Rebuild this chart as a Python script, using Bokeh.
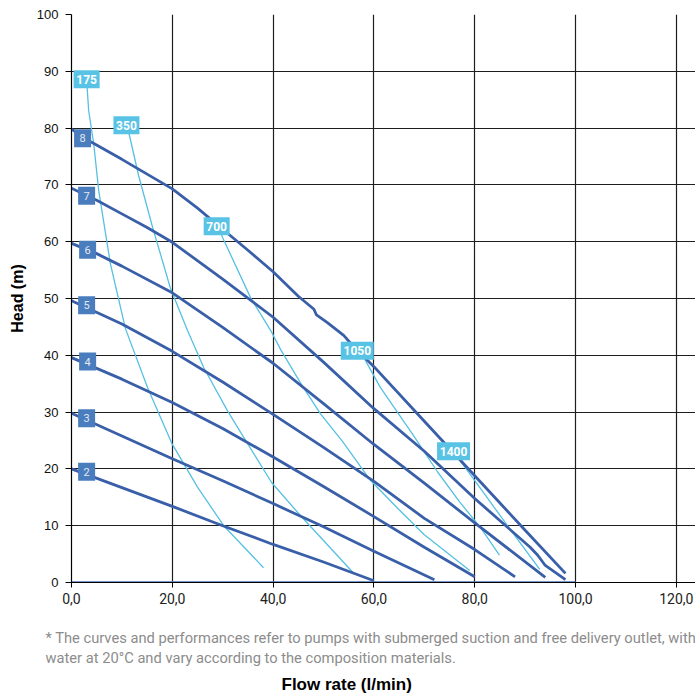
from bokeh.plotting import figure
from bokeh.models import Range1d, Title, FixedTicker
from bokeh.embed import file_html
from bokeh.resources import INLINE
from bokeh.core.properties import value

# ---------------- data ----------------
x_ticks = [0, 20, 40, 60, 80, 100, 120]
x_tick_labels = ["0,0", "20,0", "40,0", "60,0", "80,0", "100,0", "120,0"]
y_ticks = [0, 10, 20, 30, 40, 50, 60, 70, 80, 90, 100]

# head curves at air pressure (bar)
bar2_x = [0, 10, 20, 30, 40, 50, 60]
bar2_y = [20.0, 16.7, 13.4, 10.0, 6.7, 3.6, 0.3]
bar3_x = [0, 10, 20, 30, 40, 50, 60, 72]
bar3_y = [29.8, 25.8, 21.8, 17.9, 13.9, 9.8, 5.5, 0.5]
bar4_x = [0, 10, 20, 30, 40, 50, 60, 70, 80]
bar4_y = [39.6, 35.8, 31.7, 27.1, 22.1, 16.9, 11.6, 6.2, 1.0]
bar5_x = [0, 10, 20, 30, 40, 50, 60, 70, 80, 88]
bar5_y = [49.6, 45.5, 40.7, 35.3, 29.6, 23.8, 17.8, 11.3, 5.8, 1.0]
bar6_x = [0, 5, 10, 20, 30, 40, 50, 60, 70, 80, 94]
bar6_y = [59.7, 57.9, 55.7, 51.0, 44.9, 38.6, 31.5, 24.3, 17.5, 10.5, 0.9]
bar7_x = [0, 5, 10, 15, 20, 30, 40, 50, 60, 70, 80, 91, 92.5, 94, 98]
bar7_y = [69.4, 67.3, 64.9, 62.5, 59.9, 53.4, 46.7, 38.8, 30.6, 23.1, 14.8, 6.2, 4.8, 3.0, 0.5]
bar8_x = [0, 4, 10, 15, 20, 25, 30, 35, 40, 45, 48.1, 48.6, 50.7, 54, 56, 60, 70, 80, 90, 98]
bar8_y = [79.8, 77.5, 74.5, 71.9, 69.3, 65.9, 62.2, 58.5, 54.7, 50.4, 48.1, 47.1, 45.8, 43.5, 41.5,
          38.0, 28.4, 18.8, 9.2, 1.6]
bar0_x = [0, 100]
bar0_y = [0, 0]

# air consumption curves (Nl/min)
air175_x = [3.0, 3.4, 4.4, 5.4, 7.7, 10.7, 15.1, 19.9, 25.0, 30.2, 38.1]
air175_y = [88.6, 83.1, 77.3, 69.0, 56.2, 44.7, 34.3, 24.5, 16.8, 10.0, 2.6]
air350_x = [10.9, 11.5, 13.3, 16.1, 19.6, 23.0, 26.2, 30.9, 34.2, 39.7, 45.4, 50.0, 55.8]
air350_y = [80.5, 78.7, 71.7, 62.5, 51.9, 44.4, 37.9, 30.3, 25.5, 17.6, 11.8, 7.4, 1.8]
air700_x = [29.2, 30.0, 35.5, 39.5, 41.5, 45.4, 49.4, 53.8, 59.3, 65.0, 70.0, 79.0]
air700_y = [62.5, 60.7, 50.2, 44.4, 41.0, 35.2, 29.7, 24.8, 18.0, 12.8, 8.4, 2.1]
air1050_x = [57.2, 58.3, 61.3, 67.9, 72.6, 77.0, 81.2, 84.9]
air1050_y = [40.8, 39.1, 34.3, 25.8, 19.5, 14.2, 9.6, 4.8]
air1400_x = [76.2, 77.4, 82.0, 86.5, 92.9]
air1400_y = [23.0, 21.1, 15.5, 10.0, 2.3]

bar_labels = ["2", "3", "4", "5", "6", "7", "8"]
bar_label_x = [3.0, 3.0, 3.2, 3.0, 3.2, 3.0, 2.2]
bar_label_y = [19.5, 28.9, 38.9, 48.8, 58.6, 68.1, 78.2]

air_labels = ["175", "350", "700", "1050", "1400"]
air_label_x = [3.0, 10.9, 28.8, 56.7, 75.8]
air_label_y = [88.6, 80.5, 62.7, 40.8, 23.1]
air_label_w = [26, 26, 26, 33, 33]

footnote_1 = "* The curves and performances refer to pumps with submerged suction and free delivery outlet, with"
footnote_2 = "water at 20°C and vary according to the composition materials."
x_title = "Flow rate (l/min)"
y_title = "Head (m)"

# ---------------- styles ----------------
DARK = "#3a5fa9"
DARK_BOX = "#4a7dbd"
LIGHT = "#56c0e3"
LIGHT_BOX = "#58c3e5"

p = figure(width=695, height=699, x_range=Range1d(0, 123.8), y_range=Range1d(0, 100),
           output_backend="svg", toolbar_location=None,
           min_border_left=71, min_border_right=0, min_border_top=14, min_border_bottom=117)
p.outline_line_color = None
p.background_fill_color = "white"
p.border_fill_color = "white"

p.xaxis.ticker = FixedTicker(ticks=x_ticks)
p.xaxis.major_label_overrides = {t: l for t, l in zip(x_ticks, x_tick_labels)}
p.yaxis.ticker = FixedTicker(ticks=y_ticks)
p.xgrid.ticker = FixedTicker(ticks=x_ticks)
p.ygrid.ticker = FixedTicker(ticks=y_ticks)
for g in (p.xgrid, p.ygrid):
    g.grid_line_color = "#1e1e1e"
    g.grid_line_width = 1.2

for ax in (p.xaxis, p.yaxis):
    ax.axis_line_color = "black"
    ax.axis_line_width = 1.2
    ax.major_tick_line_color = "black"
    ax.major_tick_in = 0
    ax.minor_tick_line_color = None
p.xaxis.major_tick_out = 5
p.yaxis.major_tick_out = 6
p.xaxis.major_label_text_font = "Roboto"
p.xaxis.major_label_text_font_size = "14px"
p.xaxis.major_label_text_color = "#222222"
p.xaxis.major_label_standoff = 5
p.yaxis.major_label_text_font = "Liberation Sans"
p.yaxis.major_label_text_font_size = "13px"
p.yaxis.major_label_text_color = "#111111"
p.yaxis.major_label_standoff = 7
p.yaxis.axis_label = y_title
p.yaxis.axis_label_text_font = "Liberation Sans"
p.yaxis.axis_label_text_font_style = "bold"
p.yaxis.axis_label_text_font_size = "16px"
p.yaxis.axis_label_text_color = "black"
p.yaxis.axis_label_standoff = 8

# air consumption curves (thin, light blue)
for xs, ys in [(air175_x, air175_y), (air350_x, air350_y), (air700_x, air700_y),
               (air1050_x, air1050_y), (air1400_x, air1400_y)]:
    p.line(xs, ys, line_color=LIGHT, line_width=1.3)

# head curves (thick, dark blue)
p.line(bar0_x, bar0_y, line_color="#4a6fb8", line_width=2.5)
for xs, ys in [(bar2_x, bar2_y), (bar3_x, bar3_y), (bar4_x, bar4_y), (bar5_x, bar5_y),
               (bar6_x, bar6_y), (bar7_x, bar7_y), (bar8_x, bar8_y)]:
    p.line(xs, ys, line_color=DARK, line_width=2.8)

# labels
p.rect(bar_label_x, bar_label_y, width=17, height=18, width_units="screen", height_units="screen",
       fill_color=DARK_BOX, line_color=None)
p.text(bar_label_x, bar_label_y, text=bar_labels, text_align="center", text_baseline="middle",
       text_font=value("Roboto"), text_font_size="11px", text_color="#e4e9f2")
p.rect(air_label_x, air_label_y, width=air_label_w, height=18, width_units="screen",
       height_units="screen", fill_color=LIGHT_BOX, line_color=None)
p.text(air_label_x, air_label_y, text=air_labels, text_align="center", text_baseline="middle",
       text_font=value("Roboto"), text_font_style="bold", text_font_size="12px", text_color="white")

# footnote (leading empty line = spacing above) and x title below the axis
t_note = Title(text="\n" + footnote_1 + "\n" + footnote_2, align="left", offset=-26, standoff=0,
               text_font="Roboto", text_font_size="14.7px", text_font_style="normal",
               text_color="#8c8c8c", text_line_height=1.136)
t_x = Title(text=x_title, align="left", offset=210, standoff=10,
            text_font="Liberation Sans", text_font_size="17px", text_font_style="bold",
            text_color="black")
p.add_layout(t_note, "below")
p.add_layout(t_x, "below")

open("out.html", "w").write(file_html(p, INLINE))
